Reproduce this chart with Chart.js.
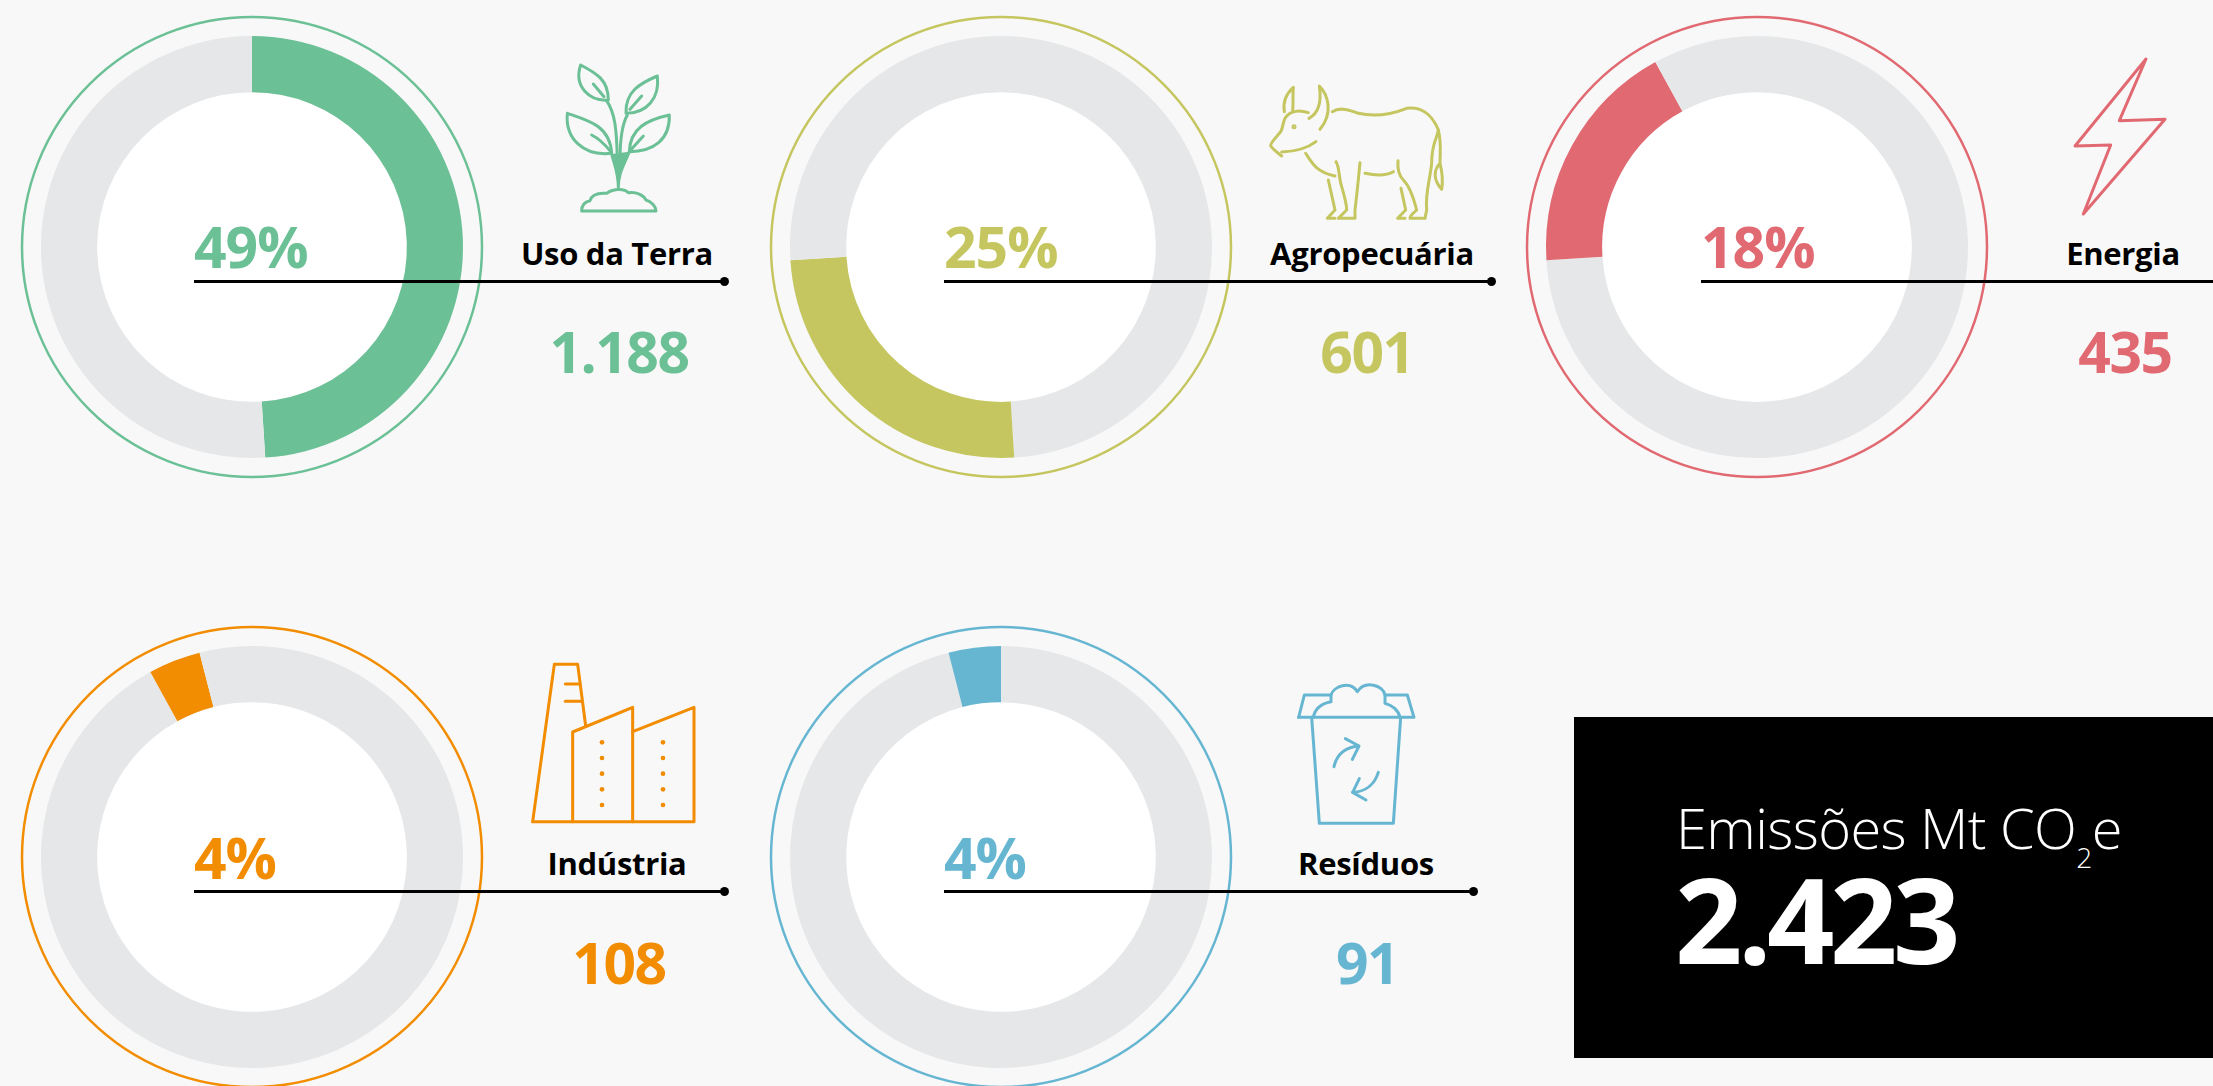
<!DOCTYPE html>
<html lang="pt">
<head>
<meta charset="utf-8">
<title>Emissões Mt CO2e</title>
<script src="https://cdn.jsdelivr.net/npm/chart.js@4"></script>
<style>
    html, body { margin: 0; padding: 0; width: 2213px; height: 1086px; overflow: hidden; background: #f8f8f8; }
    body { position: relative; font-family: "Open Sans", sans-serif; }
    canvas { position: absolute; }
    .txt { position: absolute; line-height: 1; white-space: nowrap; font-weight: 700; }
    .rule { position: absolute; height: 3px; background: #000; }
    .dot { position: absolute; width: 9px; height: 9px; border-radius: 50%; background: #000; }
    .icon { position: absolute; fill: none; stroke-linecap: round; stroke-linejoin: round; }
    #total-box { position: absolute; left: 1574px; top: 717px; width: 639px; height: 341px; background: #000; }
</style>
</head>
<body>
<div id="total-box"></div>

<script>
// --- 1. Data ---
const categories = ['Uso da Terra', 'Agropecuária', 'Energia', 'Indústria', 'Resíduos'];
const sharePercent = [49, 25, 18, 4, 4]; // the arcs follow the rounded shares
const percentLabels = ['49%', '25%', '18%', '4%', '4%'];
const valueLabels = ['1.188', '601', '435', '108', '91'];
const totalLabel = '2.423';
const sliceColors = ['#6bc096', '#c5c65f', '#e16a72', '#f28c00', '#66b6d2'];
const trackColor = '#e6e7e8';

// --- 2. Layout (one entry per category) ---
const centerX = [251.5, 1000.5, 1757, 251.5, 1000.5];
const centerY = [246.5, 246.5, 246.5, 857, 857];
const lineStart = [194, 944, 1701, 194, 944];
const lineEnd = [724, 1491, 2213, 724, 1473];
const labelX = [617, 1372, 2123, 617, 1366];
const valueX = [619, 1367, 2125, 619, 1367];

const iconBoxes = [
    { x: 540, y: 50, w: 160, h: 170 },
    { x: 1240, y: 30, w: 260, h: 240 },
    { x: 2020, y: 30, w: 193, h: 360 },
    { x: 500, y: 640, w: 240, h: 220 },
    { x: 1270, y: 660, w: 180, h: 180 }
];

// Outline icons, drawn in units of 1/3 px
const iconMarkup = [
    `<path d="M122 45C170 70 205 90 205 150C150 155 100 110 122 45Z"/><path d="M160 102L192 140"/>
     <path d="M352 78C300 100 255 125 258 190C320 190 360 145 352 78Z"/><path d="M305 138L270 178"/>
     <path d="M82 190C140 210 210 225 215 310C130 320 75 265 82 190Z"/><path d="M155 255C185 270 200 290 212 305"/>
     <path d="M388 195C320 210 270 235 268 305C340 305 390 270 388 195Z"/><path d="M310 258L272 300"/>
     <path d="M200 152C225 190 230 235 232 330"/><path d="M262 195C245 225 240 270 240 330"/>
     <path d="M215 312C225 350 235 370 235 412C235 370 250 350 268 305" fill="currentColor"/>
     <path d="M125 483C125 465 135 455 150 452C155 435 175 428 200 430C215 418 250 412 265 428C290 425 310 435 318 450C335 455 348 470 348 483Z"/>`,
    `<path d="M133 245C128 215 140 190 160 172C158 200 160 225 158 240"/>
     <path d="M207 265C235 250 245 215 238 168C265 195 280 250 240 298"/>
     <path d="M205 248C180 240 150 240 135 265C125 285 130 300 118 310C105 325 90 340 92 348C100 360 110 365 125 378"/>
     <path d="M125 366C160 365 195 360 228 335"/><circle cx="162" cy="290" r="3"/>
     <path d="M277 245C300 230 330 240 355 250C400 260 450 255 500 235C540 230 575 250 595 300C590 330 575 340 575 400C570 450 555 490 560 540L555 565L510 565C510 555 525 545 530 540C520 500 510 470 490 450C475 435 472 415 474 392"/>
     <path d="M595 300C605 340 600 370 600 400C580 420 580 450 605 478C610 450 605 420 600 400"/>
     <path d="M197 370C215 395 225 425 285 438"/>
     <path d="M288 395C300 415 295 440 305 470C315 505 320 520 320 540L295 565L345 565L345 540C350 500 355 450 360 398"/>
     <path d="M265 450L285 540L262 565L285 565"/><path d="M375 430C400 435 435 440 460 425"/>
     <path d="M483 475L497 540L473 565L495 565"/>`,
    `<path d="M378 87L298 272L435 268L190 552L272 345L165 348Z"/>`,
    `<path d="M98 545L163 73L233 73L257 258"/><path d="M196 132L240 132"/><path d="M196 184L245 184"/>
     <path d="M98 545L582 545L582 202L398 275"/><path d="M218 545L218 276L398 202L398 545"/>` +
     [307, 354, 401, 448, 495].map(y =>
        `<circle cx="306" cy="${y}" r="7" fill="currentColor" stroke="none"/><circle cx="489" cy="${y}" r="7" fill="currentColor" stroke="none"/>`).join(''),
    `<path d="M86 172L432 172L412 105L345 105"/><path d="M86 172L103 105L183 105"/>
     <path d="M130 172C135 145 155 130 183 125L183 105C190 80 240 60 262 95C285 60 340 75 345 105L345 130C365 135 385 150 390 172"/>
     <path d="M125 172L148 490L370 490L392 172"/>
     <path d="M192 320C200 285 225 262 265 258"/><path d="M226 236L267 258L247 298"/>
     <path d="M325 337C315 370 290 395 248 397"/><path d="M268 356L248 397L288 420"/>`
];

// --- 3. Helpers ---
function addText(text, x, baseline, size, color, opts = {}) {
    const el = document.createElement('div');
    el.className = 'txt';
    el.innerHTML = text;
    el.style.top = (baseline - size * 0.888) + 'px';
    el.style.left = x + 'px';
    el.style.fontSize = size + 'px';
    el.style.color = color;
    if (opts.center) el.style.transform = 'translateX(-50%)';
    if (opts.spacing) el.style.letterSpacing = opts.spacing + 'px';
    if (opts.weight) el.style.fontWeight = opts.weight;
    document.body.appendChild(el);
}

// Draws the thin outer ring and the white hole behind the arcs
const ringPlugin = {
    id: 'ringPlugin',
    beforeDatasetsDraw(chart, args, opts) {
        const arc = chart.getDatasetMeta(0).data[0];
        const ctx = chart.ctx;
        ctx.save();
        ctx.beginPath();
        ctx.arc(arc.x, arc.y, 230, 0, Math.PI * 2);
        ctx.lineWidth = 2.5;
        ctx.strokeStyle = opts.color;
        ctx.stroke();
        ctx.beginPath();
        ctx.arc(arc.x, arc.y, 155, 0, Math.PI * 2);
        ctx.fillStyle = '#fff';
        ctx.fill();
        ctx.restore();
    }
};

// --- 4. Donuts: all five share one running total around the circle ---
const grandTotal = sharePercent.reduce((a, b) => a + b, 0);
let runningSum = 0;

categories.forEach((name, i) => {
    const before = runningSum;
    const after = grandTotal - before - sharePercent[i];
    runningSum += sharePercent[i];

    const canvas = document.createElement('canvas');
    canvas.width = 480;
    canvas.height = 480;
    canvas.style.left = (centerX[i] - 240) + 'px';
    canvas.style.top = (centerY[i] - 240) + 'px';
    document.body.appendChild(canvas);

    new Chart(canvas.getContext('2d'), {
        type: 'doughnut',
        data: {
            labels: ['', name, ''],
            datasets: [{
                data: [before, sharePercent[i], after],
                backgroundColor: [trackColor, sliceColors[i], trackColor],
                borderWidth: 0
            }]
        },
        options: {
            responsive: false,
            animation: false,
            radius: 211,
            cutout: '73.4%',
            plugins: {
                legend: { display: false },
                tooltip: { enabled: false },
                ringPlugin: { color: sliceColors[i] }
            }
        },
        plugins: [ringPlugin]
    });

    // Leader line
    const baseY = Math.round(centerY[i] + 34);
    const rule = document.createElement('div');
    rule.className = 'rule';
    rule.style.left = lineStart[i] + 'px';
    rule.style.top = (baseY - 1) + 'px';
    rule.style.width = (lineEnd[i] - lineStart[i]) + 'px';
    document.body.appendChild(rule);

    if (lineEnd[i] < 2213) {
        const dot = document.createElement('div');
        dot.className = 'dot';
        dot.style.left = (lineEnd[i] - 4.5) + 'px';
        dot.style.top = (baseY - 4) + 'px';
        document.body.appendChild(dot);
    }

    // Texts
    addText(percentLabels[i], lineStart[i], centerY[i] + 22.5, 57, sliceColors[i], { spacing: -1 });
    addText(name, labelX[i], centerY[i] + 19, 31, '#000', { center: true, spacing: -0.3 });
    addText(valueLabels[i], valueX[i], centerY[i] + 127.5, 57, sliceColors[i], { center: true, spacing: -1.5 });

    // Icon
    const b = iconBoxes[i];
    const svg = document.createElementNS('http://www.w3.org/2000/svg', 'svg');
    svg.setAttribute('class', 'icon');
    svg.setAttribute('viewBox', `0 0 ${b.w * 3} ${b.h * 3}`);
    svg.setAttribute('width', b.w);
    svg.setAttribute('height', b.h);
    svg.style.left = b.x + 'px';
    svg.style.top = b.y + 'px';
    svg.style.color = sliceColors[i];
    svg.style.stroke = sliceColors[i];
    svg.style.strokeWidth = 9;
    svg.innerHTML = iconMarkup[i];
    document.body.appendChild(svg);
});

// --- 5. Total box ---
addText('Emissões Mt CO<span style="font-size:28px;position:relative;top:19px">2</span>e', 1676, 849, 56, '#fff', { weight: 300, spacing: -0.6 });
addText(totalLabel, 1675, 965, 118, '#fff', { spacing: -4.5 });
</script>
</body>
</html>
